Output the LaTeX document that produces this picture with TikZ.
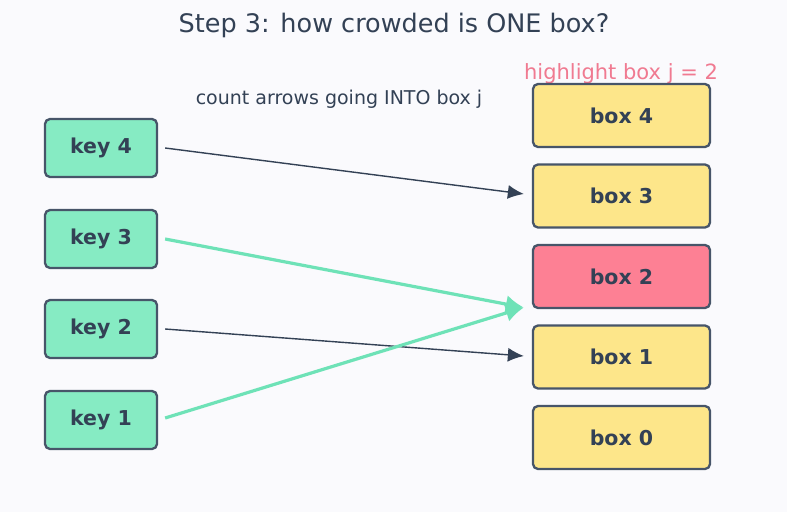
\documentclass[tikz,border=0pt]{standalone}
\usepackage{fontspec}
\setmainfont{DejaVu Sans}
\usetikzlibrary{arrows.meta}
\definecolor{bg}{HTML}{FAFAFD}
\definecolor{txt}{HTML}{334155}
\definecolor{edge}{HTML}{475569}
\definecolor{keyfill}{HTML}{86EBC3}
\definecolor{boxfill}{HTML}{FDE68A}
\definecolor{hifill}{HTML}{FD8094}
\definecolor{hitxt}{HTML}{F07A91}
\definecolor{grn}{HTML}{6EE2B7}
\tikzset{
  keybox/.style={draw=edge, line width=2.3pt, fill=keyfill, rounded corners=5pt,
    minimum width=112pt, minimum height=58pt, inner sep=0pt, text=txt,
    font=\fontsize{20.5}{24}\selectfont\bfseries},
  binbox/.style={draw=edge, line width=2.3pt, fill=boxfill, rounded corners=5pt,
    minimum width=177pt, minimum height=63pt, inner sep=0pt, text=txt,
    font=\fontsize{20.5}{24}\selectfont\bfseries},
  darrow/.style={draw=txt, line width=1.4pt, -{Latex[length=16pt,width=14pt]}},
  garrow/.style={draw=grn, line width=3.2pt, -{Latex[length=18pt,width=18pt]}},
}
\begin{document}
\begin{tikzpicture}[x=1pt,y=-1pt]
\fill[bg] (0,0) rectangle (787,512);
\useasboundingbox (0,0) rectangle (787,512);
\node[text=txt, font=\fontsize{25.5}{30}\selectfont] (title) at (394,25) {Step 3: how crowded is ONE box?};
\node[text=txt, font=\fontsize{19}{23}\selectfont] (sub) at (339,99) {count arrows going INTO box j};
\node[text=hitxt, font=\fontsize{21}{25}\selectfont] (hl) at (621,74) {highlight box j = 2};

\node[keybox] (k4) at (101,148) {key 4};
\node[keybox] (k3) at (101,239) {key 3};
\node[keybox] (k2) at (101,329) {key 2};
\node[keybox] (k1) at (101,420) {key 1};

\node[binbox] (b4) at (621.5,115.5) {box 4};
\node[binbox] (b3) at (621.5,196) {box 3};
\node[binbox, fill=hifill] (b2) at (621.5,276.5) {box 2};
\node[binbox] (b1) at (621.5,357) {box 1};
\node[binbox] (b0) at (621.5,437.5) {box 0};

\coordinate (t3) at ([shift={(-8,-2)}]b3.west);
\coordinate (t2) at ([shift={(-8,31)}]b2.west);
\coordinate (t1) at ([shift={(-8,-1)}]b1.west);

\draw[darrow] ([xshift=7pt]k4.east) -- (t3);
\draw[darrow] ([xshift=7pt]k2.east) -- (t1);
\draw[garrow] ([xshift=7pt]k3.east) -- (t2);
\draw[garrow] ([shift={(7,-2)}]k1.east) -- (t2);
\end{tikzpicture}
\end{document}
